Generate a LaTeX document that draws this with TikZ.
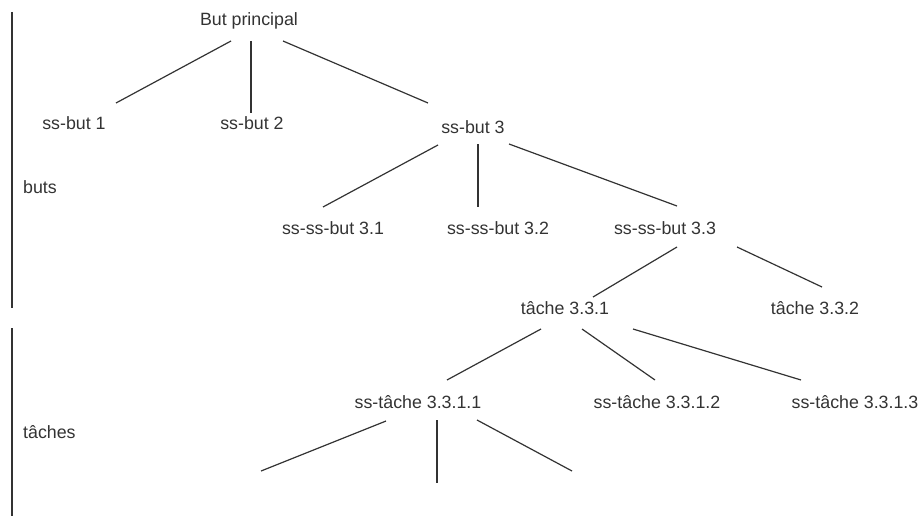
\documentclass[tikz,border=0pt]{standalone}
\usepackage{fontspec}
\setmainfont{Liberation Sans}
\usepackage{xcolor}
\usepackage{tikz}
\usetikzlibrary{calc}
\definecolor{ink}{HTML}{333333}

\begin{document}
\begin{tikzpicture}[
  x=1pt, y=-1pt,
  font=\fontsize{17.8}{20}\selectfont,
  goal/.style={anchor=base, inner sep=0pt, text=ink},
  side/.style={anchor=base west, inner sep=0pt, text=ink},
  link/.style={draw=ink, line width=1.2pt},
  bar/.style={draw=ink, line width=1.1pt}
]
\useasboundingbox (0,0) rectangle (923,519);
\node[goal] (bp) at (249,26) {But principal};
\node[goal] (sb1) at (74,129) {ss-but 1};
\node[goal] (sb2) at (252,129) {ss-but 2};
\node[goal] (sb3) at (473,133) {ss-but 3};
\node[goal] (ss1) at (333,234) {ss-ss-but 3.1};
\node[goal] (ss2) at (498,234) {ss-ss-but 3.2};
\node[goal] (ss3) at (665,234) {ss-ss-but 3.3};
\node[goal] (t1) at (565,314) {tâche 3.3.1};
\node[goal] (t2) at (815,314) {tâche 3.3.2};
\node[goal] (st1) at (418,408) {ss-tâche 3.3.1.1};
\node[goal] (st2) at (657,408) {ss-tâche 3.3.1.2};
\node[goal] (st3) at (855,408) {ss-tâche 3.3.1.3};
\node[side] (buts) at (23,193) {buts};
\node[side] (taches) at (23,438) {tâches};
\coordinate (l1) at (261,471);
\coordinate (l2) at (437,483);
\coordinate (l3) at (572,471);
\draw[bar] (12,12) -- (12,308);
\draw[bar] (12,328) -- (12,516);
\foreach \u/\ux/\uy/\v/\vx/\vy in {bp/-18/15/sb1/42/-26, bp/2/15/sb2/-1/-16,
    bp/34/15/sb3/-45/-30, sb3/-35/12/ss1/-10/-27, sb3/5/11/ss2/-20/-27,
    sb3/36/11/ss3/12/-28, ss3/12/13/t1/28/-17, ss3/72/13/t2/7/-27,
    t1/-24/15/st1/29/-28, t1/17/15/st2/-2/-28, t1/68/15/st3/-54/-28}
  {\draw[link] ($(\u.base)+(\ux,\uy)$) -- ($(\v.base)+(\vx,\vy)$);}
\foreach \v/\ux/\uy in {l1/-32/13, l2/19/12, l3/59/12}
  {\draw[link] ($(st1.base)+(\ux,\uy)$) -- (\v);}
\end{tikzpicture}
\end{document}
